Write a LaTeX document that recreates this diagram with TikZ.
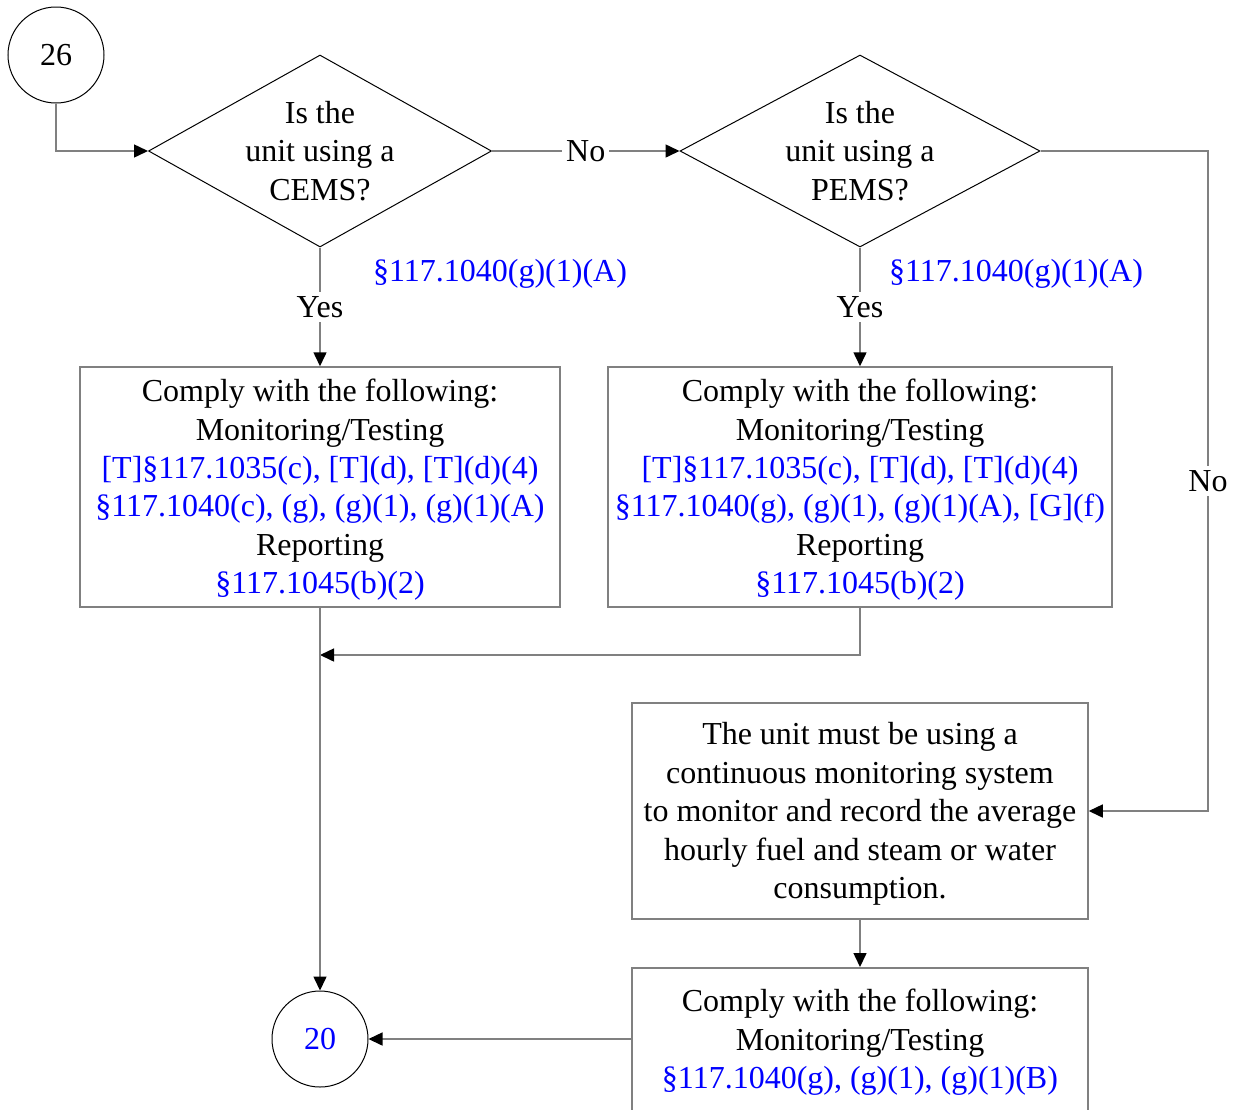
\documentclass[tikz,border=0pt]{standalone}
\usepackage{fontspec}
\setmainfont{Liberation Serif}
\usetikzlibrary{shapes.geometric,arrows.meta}
\definecolor{conn}{RGB}{128,128,128}
\definecolor{ref}{RGB}{0,0,255}
% taller first line so the block sits a little lower in its box
\newcommand\firstline{\rule{0pt}{28pt}}
\begin{document}
\begin{tikzpicture}[x=1pt,y=-1pt,
  every node/.style={font=\fontsize{32}{38.4}\selectfont, align=center},
  decision/.style={diamond, draw=black, line width=1pt, inner sep=0pt},
  stepbox/.style={rectangle, draw=conn, line width=1.5pt, inner sep=0pt},
  connector/.style={circle, draw=black, line width=1pt, minimum size=96pt, inner sep=0pt},
  flow/.style={draw=conn, line width=1.5pt},
  arr/.style={flow, -{Triangle[length=14pt,width=13pt,black]}},
  lbl/.style={fill=white, inner sep=4pt},
  cite/.style={text=ref}]
\useasboundingbox (0,0) rectangle (1233,1109);
\clip (0,0) rectangle (1233,1109);

% off-page connectors
\node[connector] (c26) at (56,55) {26};
\node[connector, text=ref] (c20) at (320,1039) {20};

% decisions
\node[decision, aspect=1.786, minimum width=343pt, minimum height=192pt] (d1) at (320,151)
  {Is the\\unit using a\\CEMS?};
\node[decision, aspect=1.875, minimum width=360pt, minimum height=192pt] (d2) at (860,151)
  {Is the\\unit using a\\PEMS?};
\node[cite] (r1) at (500,274) {§117.1040(g)(1)(A)};
\node[cite] (r2) at (1016,274) {§117.1040(g)(1)(A)};

% requirement boxes
\node[stepbox, minimum width=480pt, minimum height=240pt] (b1) at (320,487)
  {\firstline Comply with the following:\\Monitoring/Testing\\
   \textcolor{ref}{[T]§117.1035(c), [T](d), [T](d)(4)}\\
   \textcolor{ref}{§117.1040(c), (g), (g)(1), (g)(1)(A)}\\
   Reporting\\\textcolor{ref}{§117.1045(b)(2)}};
\node[stepbox, minimum width=504pt, minimum height=240pt] (b2) at (860,487)
  {\firstline Comply with the following:\\Monitoring/Testing\\
   \textcolor{ref}{[T]§117.1035(c), [T](d), [T](d)(4)}\\
   \textcolor{ref}{§117.1040(g), (g)(1), (g)(1)(A), [G](f)}\\
   Reporting\\\textcolor{ref}{§117.1045(b)(2)}};
\node[stepbox, minimum width=456pt, minimum height=216pt] (b3) at (860,811)
  {\firstline The unit must be using a\\continuous monitoring system\\
   to monitor and record the average\\hourly fuel and steam or water\\consumption.};
\node[stepbox, minimum width=456pt, minimum height=216pt, anchor=north] (b4) at (860,967) {};
\node[anchor=north, inner sep=0pt] (b4t) at (860,989)
  {Comply with the following:\\Monitoring/Testing\\
   \textcolor{ref}{§117.1040(g), (g)(1), (g)(1)(B)}};

% connectors
\coordinate (turn) at (1208,151);
\coordinate (join) at (320,655);
\draw[arr] (c26.south) |- (d1.west);
\draw[arr] (d1.east) -- node[lbl]{No} (d2.west);
\draw[arr] (d1.south) -- node[lbl]{Yes} (b1.north);
\draw[arr] (d2.south) -- node[lbl]{Yes} (b2.north);
\draw[arr] (d2.east) -- (turn) -- node[lbl]{No} (turn |- b3.east) -- (b3.east);
\draw[arr] (b2.south) |- (join);
\draw[arr] (b1.south) -- (c20.north);
\draw[arr] (b3.south) -- (b4.north);
\draw[arr] (c20 -| b4.west) -- (c20.east);
\end{tikzpicture}
\end{document}
